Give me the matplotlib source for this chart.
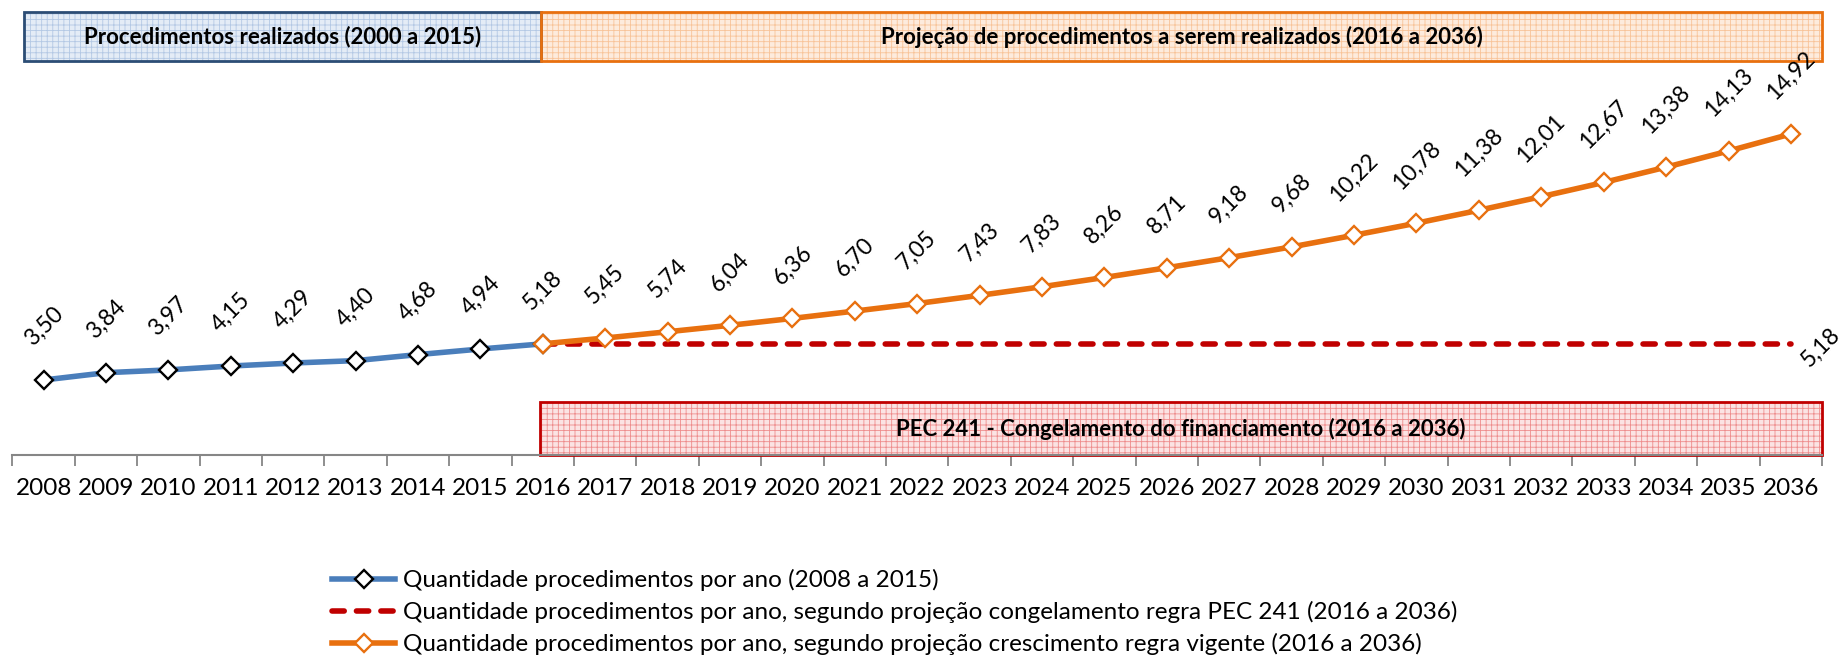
import matplotlib.pyplot as plt
from matplotlib.patches import Rectangle
import numpy as np

plt.rcParams['font.family'] = ['Lato', 'DejaVu Sans']
plt.rcParams['hatch.linewidth'] = 0.6

anos = list(range(2008, 2037))

# valores (milhares de procedimentos por ano)
realizados = [3.50, 3.84, 3.97, 4.15, 4.29, 4.40, 4.68, 4.94, 5.18]  # 2008 a 2016
crescimento = [5.18, 5.45, 5.74, 6.04, 6.36, 6.70, 7.05, 7.43, 7.83, 8.26, 8.71,
               9.18, 9.68, 10.22, 10.78, 11.38, 12.01, 12.67, 13.38, 14.13, 14.92]  # 2016 a 2036
congelamento = [5.18] * 21  # 2016 a 2036

lbl_azul = "Quantidade procedimentos por ano (2008 a 2015)"
lbl_verm = "Quantidade procedimentos por ano, segundo projeção congelamento regra PEC 241 (2016 a 2036)"
lbl_lar = "Quantidade procedimentos por ano, segundo projeção crescimento regra vigente (2016 a 2036)"

box_top_esq = "Procedimentos realizados (2000 a 2015)"
box_top_dir = "Projeção de procedimentos a serem realizados (2016 a 2036)"
box_baixo = "PEC 241 - Congelamento do financiamento (2016 a 2036)"

azul = "#4A7EBB"
laranja = "#E8700F"
vermelho = "#C00000"

def fmt(v):
    return f"{v:.2f}".replace(".", ",")

fig = plt.figure(figsize=(18.45, 6.57), dpi=100)
ax = fig.add_axes([0.0067, 0.3068, 0.9809, 0.6749])

x = np.arange(len(anos))
x_real = x[:len(realizados)]
x_proj = x[8:8 + len(crescimento)]

ax.plot(x_real, realizados, color=azul, lw=4, marker='D', ms=9,
        mfc='white', mec='black', mew=1.7, label=lbl_azul, zorder=3)
ax.plot(x_proj, congelamento, color=vermelho, lw=4, dashes=(2.2, 2.2),
        dash_capstyle='round', label=lbl_verm, zorder=3)
ax.plot(x_proj, crescimento, color=laranja, lw=4, marker='D', ms=9,
        mfc='white', mec=laranja, mew=1.7, label=lbl_lar, zorder=4)

# rótulos (caixa girada fica logo acima do ponto)
for xi, v in zip(list(x_real[:-1]) + list(x_proj), realizados[:-1] + crescimento):
    ax.annotate(fmt(v), (xi, v), xytext=(0, 30), textcoords='offset pixels',
                rotation=45, ha='center', va='bottom', fontsize=16.5)
ax.annotate(fmt(congelamento[-1]), (x_proj[-1], congelamento[-1]), xytext=(7, -3),
            textcoords='offset pixels', rotation=45, ha='left', va='center', fontsize=16.5)

# caixas
def caixa(x0, x1, y0, y1, base, hachura, borda, texto):
    ax.add_patch(Rectangle((x0, y0), x1 - x0, y1 - y0, facecolor=base, edgecolor=hachura,
                           hatch='+++', lw=0, clip_on=False, zorder=1))
    ax.add_patch(Rectangle((x0, y0), x1 - x0, y1 - y0, fill=False, edgecolor=borda,
                           lw=2, clip_on=False, zorder=2))
    ax.text((x0 + x1) / 2, (y0 + y1) / 2, texto, ha='center', va='center',
            fontsize=16, fontweight='bold', zorder=5)

caixa(-0.32, 7.97, 18.31, 20.58, "#E4ECF6", "#B3C8E4", "#2C4D75", box_top_esq)
caixa(7.97, 28.5, 18.31, 20.58, "#FDEBDD", "#F8C398", laranja, box_top_dir)
caixa(7.96, 28.5, 0.0, 2.48, "#FBE3E3", "#EE8C8C", vermelho, box_baixo)

ax.set_xlim(-0.5, 28.5)
ax.set_ylim(0, 20.58)
for s in ['top', 'right', 'left']:
    ax.spines[s].set_visible(False)
ax.spines['bottom'].set_color('#868686')
ax.spines['bottom'].set_linewidth(1.5)
ax.set_yticks([])
ax.set_xticks(x)
ax.set_xticklabels([str(a) for a in anos], fontsize=17.5)
ax.tick_params(axis='x', which='major', length=0, pad=16)
ax.set_xticks(np.arange(-0.5, 28.6, 1), minor=True)
ax.tick_params(axis='x', which='minor', length=8, width=1.3, color='#868686')

fig.legend(loc='upper left', bbox_to_anchor=(0.1735, 0.152), frameon=False,
           fontsize=17.5, handlelength=2.6, handletextpad=0.3, borderpad=0,
           labelspacing=0.4)

fig.savefig("out.png", dpi=100)
